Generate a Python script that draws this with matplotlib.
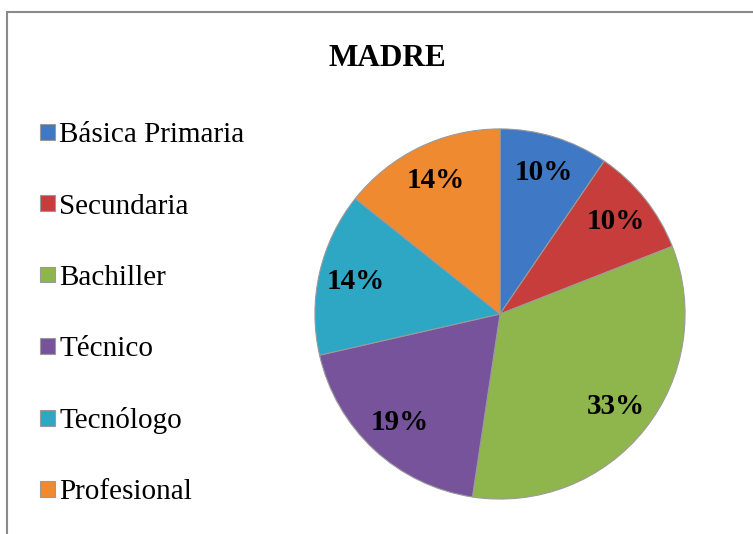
import matplotlib.pyplot as plt
from matplotlib.patches import Rectangle

labels = ['Básica Primaria', 'Secundaria', 'Bachiller', 'Técnico', 'Tecnólogo', 'Profesional']
counts = [2, 2, 7, 4, 3, 3]
colors = ['#3f78c4', '#c63d3b', '#8fb64c', '#77539c', '#2ea7c4', '#f08a30']

plt.rcParams['font.family'] = ['Liberation Serif', 'DejaVu Serif']

fig = plt.figure(figsize=(7.53, 5.34), dpi=100)

# chart frame
fig.patches.append(Rectangle((0.0093, -0.05), 1.2, 0.0275 + 0.05 + 0.95,
                             transform=fig.transFigure, fill=False,
                             edgecolor='#8a8a8a', linewidth=1.5))

ax = fig.add_axes([0.664 - 0.247, 0.412 - 0.3485, 0.494, 0.697])
wedges, texts, autotexts = ax.pie(counts, colors=colors, startangle=90, counterclock=False,
                                  autopct=lambda p: '%.0f%%' % p, pctdistance=0.8,
                                  wedgeprops=dict(edgecolor='#9a9a9a', linewidth=0.8))
for t in autotexts:
    t.set_fontsize(21)
    t.set_fontweight('bold')
    t.set_color('black')
ax.set_xlim(-1.005, 1.005)
ax.set_ylim(-1.005, 1.005)
ax.set_aspect('equal')

fig.text(0.515, 0.89, 'MADRE', ha='center', va='center', fontsize=22.5, fontweight='bold')

fig.legend(wedges, labels, loc='upper left', bbox_to_anchor=(0.034, 0.798),
           frameon=False, fontsize=21, handlelength=0.5, handleheight=0.45,
           handletextpad=0.15, labelspacing=1.55, borderpad=0)

fig.savefig('out.png', dpi=100)
